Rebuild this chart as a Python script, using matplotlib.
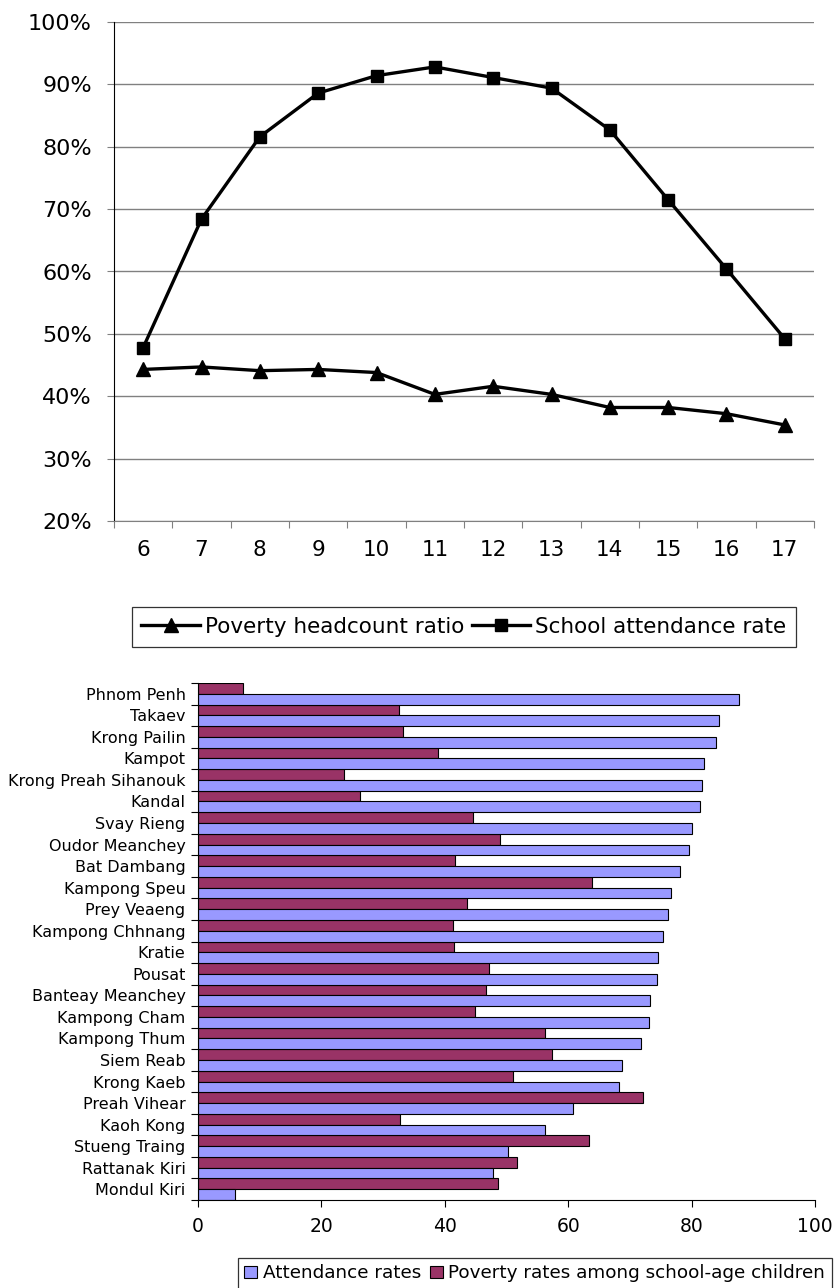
import matplotlib
matplotlib.use("Agg")
import matplotlib.pyplot as plt
import numpy as np
from matplotlib.ticker import FixedLocator, NullFormatter, FixedFormatter

# top chart: rates by age (%)
ages = [6, 7, 8, 9, 10, 11, 12, 13, 14, 15, 16, 17]
poverty_ratio = [44.3, 44.7, 44.1, 44.3, 43.8, 40.3, 41.6, 40.3, 38.2, 38.2, 37.2, 35.4]
attendance_rate = [47.8, 68.4, 81.6, 88.6, 91.4, 92.8, 91.1, 89.4, 82.7, 71.5, 60.4, 49.2]

# bottom chart: provinces
provinces = ["Phnom Penh", "Takaev", "Krong Pailin", "Kampot", "Krong Preah Sihanouk",
             "Kandal", "Svay Rieng", "Oudor Meanchey", "Bat Dambang", "Kampong Speu",
             "Prey Veaeng", "Kampong Chhnang", "Kratie", "Pousat", "Banteay Meanchey",
             "Kampong Cham", "Kampong Thum", "Siem Reab", "Krong Kaeb", "Preah Vihear",
             "Kaoh Kong", "Stueng Traing", "Rattanak Kiri", "Mondul Kiri"]
attendance = [87.7, 84.5, 84.0, 82.0, 81.7, 81.4, 80.1, 79.6, 78.1, 76.7, 76.2, 75.4,
              74.6, 74.4, 73.2, 73.1, 71.8, 68.8, 68.2, 60.7, 56.2, 50.3, 47.8, 6.0]
poverty = [7.3, 32.6, 33.2, 38.9, 23.7, 26.3, 44.6, 48.9, 41.7, 63.8, 43.6, 41.3,
           41.5, 47.2, 46.7, 44.9, 56.2, 57.3, 51.0, 72.2, 32.8, 63.3, 51.7, 48.6]

W, H = 835, 1288
fig = plt.figure(figsize=(W / 100, H / 100), dpi=100)
plt.rcParams['font.family'] = ['DejaVu Sans']

# ---------- top line chart ----------
ax1 = fig.add_axes([114 / W, 1 - 521 / H, 700 / W, 499 / H])
x = np.arange(len(ages))
l1, = ax1.plot(x, poverty_ratio, color='black', lw=2.4, marker='^', markersize=10,
               label='Poverty headcount ratio')
l2, = ax1.plot(x, attendance_rate, color='black', lw=2.4, marker='s', markersize=8.5,
               label='School attendance rate')
ax1.set_xlim(-0.5, len(ages) - 0.5)
ax1.set_ylim(20, 100)
ax1.set_yticks(np.arange(20, 101, 10))
ax1.set_yticklabels([f"{v}%" for v in range(20, 101, 10)])
ax1.grid(axis='y', color='#808080', lw=1)
ax1.set_axisbelow(True)
ax1.xaxis.set_major_locator(FixedLocator(np.arange(-0.5, len(ages), 1)))
ax1.xaxis.set_major_formatter(NullFormatter())
ax1.xaxis.set_minor_locator(FixedLocator(x))
ax1.xaxis.set_minor_formatter(FixedFormatter([str(a) for a in ages]))
ax1.tick_params(axis='x', which='major', length=5, color='#808080', direction='out')
ax1.tick_params(axis='x', which='minor', length=0, pad=14, labelsize=15.5)
ax1.tick_params(axis='y', length=5, color='#808080', pad=11, labelsize=16)
for s in ['top', 'right']:
    ax1.spines[s].set_visible(False)
ax1.spines['bottom'].set_color('#808080')
ax1.spines['left'].set_color('black')

leg1 = fig.legend(handles=[l1, l2], loc='center', bbox_to_anchor=(464 / W, 1 - 627 / H),
                  ncol=2, fontsize=15.5, frameon=True, fancybox=False, edgecolor='black',
                  handlelength=2.7, handletextpad=0.25, columnspacing=0.35,
                  borderpad=0.45, borderaxespad=0)
leg1.get_frame().set_linewidth(0.9)

# ---------- bottom bar chart ----------
ax2 = fig.add_axes([198 / W, 1 - 1200 / H, 617 / W, 517 / H])
n = len(provinces)
idx = np.arange(n)
ax2.barh(idx + 0.25, poverty, height=0.5, color='#993366', edgecolor='black', lw=0.8,
         label='Poverty rates among school-age children')
ax2.barh(idx + 0.75, attendance, height=0.5, color='#9999FF', edgecolor='black', lw=0.8,
         label='Attendance rates')
ax2.set_ylim(n, 0)
ax2.set_xlim(0, 100)
ax2.set_xticks(np.arange(0, 101, 20))
ax2.yaxis.set_major_locator(FixedLocator(np.arange(0, n + 1)))
ax2.yaxis.set_major_formatter(NullFormatter())
ax2.yaxis.set_minor_locator(FixedLocator(idx + 0.5))
ax2.yaxis.set_minor_formatter(FixedFormatter(provinces))
ax2.tick_params(axis='y', which='major', length=5, direction='out')
ax2.tick_params(axis='y', which='minor', length=0, pad=9, labelsize=11.5)
ax2.tick_params(axis='x', length=5, pad=7, labelsize=13.5)
for s in ['top', 'right']:
    ax2.spines[s].set_visible(False)

h, lab = ax2.get_legend_handles_labels()
leg2 = fig.legend(handles=[h[1], h[0]], labels=[lab[1], lab[0]], loc='upper left',
                  bbox_to_anchor=(238 / W, 1 - 1258 / H), ncol=2, fontsize=13.2,
                  frameon=True, fancybox=False, edgecolor='black',
                  handlelength=0.7, handleheight=0.7, handletextpad=0.3,
                  columnspacing=0.5, borderpad=0.35, borderaxespad=0)
leg2.get_frame().set_linewidth(0.9)

fig.savefig("out.png", dpi=100)
